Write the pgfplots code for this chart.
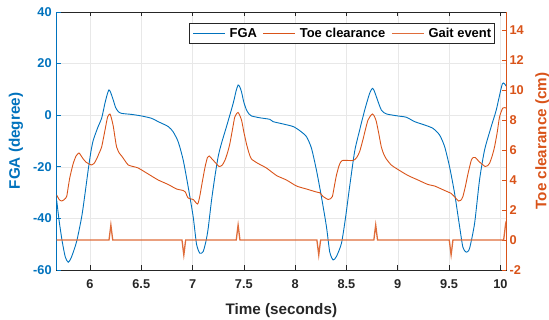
\documentclass[border=0pt]{standalone}
\usepackage{pgfplots}
\pgfplotsset{compat=1.18}
\usepackage{fontspec}
\setmainfont{Liberation Sans}
\definecolor{mblue}{rgb}{0,0.447,0.741}
\definecolor{morange}{rgb}{0.85,0.325,0.098}
\definecolor{mgray}{rgb}{0.15,0.15,0.15}
\begin{document}
\begin{tikzpicture}
\pgfplotsset{
  every axis/.append style={
    scale only axis, width=449.3bp, height=258bp,
    xmin=5.676, xmax=10.055,
    tick align=inside,
    major tick length=4.5bp,
    /pgf/number format/assume math mode=true,
    ticklabel style={font=\bfseries\fontsize{12.8}{15}\selectfont},
  }
}
% grid + x axis box
\begin{axis}[name=ax,
  axis lines=box,
  ymin=-60, ymax=40,
  xtick={6,6.5,7,7.5,8,8.5,9,9.5,10},
  xticklabels={6,6.5,7,7.5,8,8.5,9,9.5,10},
  xticklabel style={mgray, yshift=-6bp},
  ytick=\empty,
  extra y ticks={-40,-20,0,20},
  extra y tick labels={,,,},
  extra y tick style={major tick length=0pt, grid=major},
  xmajorgrids,
  grid style={gray!18, line width=0.5bp},
  axis line style={mgray, line width=0.6bp},
  tick style={mgray, line width=0.6bp},
  xlabel={Time (seconds)},
  xlabel style={mgray, font=\bfseries\fontsize{15.3}{18}\selectfont, at={(axis description cs:0.5,0)}, anchor=center, yshift=-41bp},
]
\end{axis}
% left axis: FGA
\begin{axis}[
  axis x line=none, axis y line*=left,
  ymin=-60, ymax=40, ytick={-60,-40,-20,0,20,40},
  y axis line style={mblue, line width=0.6bp},
  tick style={mblue, line width=0.6bp},
  yticklabel style={mblue, xshift=-1.5bp},
  ylabel={FGA (degree)},
  ylabel style={mblue, font=\bfseries\fontsize{15.3}{18}\selectfont, at={(axis description cs:0,0.5)}, anchor=center, rotate=0, yshift=40.7bp},
]
\addplot[mblue, line width=0.9bp, smooth, tension=0.4] coordinates {
(5.676,-33) (5.70,-41) (5.73,-49) (5.76,-55) (5.789,-57) (5.82,-55) (5.87,-49) (5.92,-39.3) (5.95,-31) (5.983,-21.2) (6.01,-14) (6.033,-9.6) (6.08,-4.4) (6.114,-1.2) (6.146,4.6) (6.17,8.3) (6.185,9.8) (6.20,9) (6.227,5.9) (6.25,3) (6.276,1.4) (6.309,0.7) (6.406,0.3) (6.503,-0.3) (6.60,-1.2) (6.665,-2.5) (6.763,-4.4) (6.81,-6.4) (6.86,-10.3) (6.909,-17.4) (6.957,-27.7) (7.006,-39.3) (7.039,-50) (7.071,-53.5) (7.103,-52.9) (7.13,-49) (7.152,-44) (7.185,-33) (7.217,-24) (7.25,-16) (7.282,-10.9) (7.331,-4.4) (7.396,4.6) (7.425,9.5) (7.444,11.7) (7.46,11) (7.477,9.1) (7.50,5) (7.526,2.0) (7.55,0.5) (7.574,-0.3) (7.655,-1.0) (7.753,-1.6) (7.785,-2.5) (7.882,-3.4) (7.98,-4.4) (8.045,-6) (8.11,-8.3) (8.159,-12.8) (8.207,-21.2) (8.256,-31.6) (8.305,-43.2) (8.337,-53) (8.37,-56.1) (8.402,-54.8) (8.451,-49.7) (8.49,-40) (8.53,-28) (8.58,-14) (8.629,-5.7) (8.678,2.0) (8.726,8.5) (8.753,10.4) (8.77,9.5) (8.791,7.2) (8.84,2.0) (8.889,0.5) (9.002,-0.3) (9.084,-0.8) (9.165,-2.5) (9.262,-3.8) (9.343,-5.1) (9.408,-7.7) (9.457,-12.2) (9.505,-20) (9.554,-30.3) (9.603,-43.2) (9.635,-51.2) (9.668,-53.1) (9.70,-51.6) (9.749,-41.9) (9.797,-25.1) (9.846,-13.5) (9.911,-4.4) (9.96,2.0) (10.02,12.2) (10.055,11.3)
};
\end{axis}
% right axis: toe clearance + gait events
\begin{axis}[
  axis x line=none, axis y line*=right,
  ymin=-2, ymax=15.2, ytick={-2,0,2,4,6,8,10,12,14},
  y axis line style={morange, line width=0.6bp},
  tick style={morange, line width=0.6bp},
  yticklabel style={morange},
  ylabel={Toe clearance (cm)},
  ylabel style={morange, font=\bfseries\fontsize{15.3}{18}\selectfont, at={(axis description cs:1,0.5)}, anchor=center, rotate=0, yshift=-36.5bp},
  legend style={at={(0.9755,0.957)}, anchor=north east, legend columns=3,
    draw=mgray, line width=0.6bp, fill=white, inner xsep=3.5bp, inner ysep=2.5bp,
    font=\bfseries\fontsize{13}{15}\selectfont,
    nodes={inner xsep=0bp},
    /tikz/every odd column/.append style={column sep=4bp},
    /tikz/every even column/.append style={column sep=6bp}},
  legend image code/.code={\draw[#1] (0bp,0bp) -- (32bp,0bp);},
]
\addlegendimage{mblue, line width=0.9bp}
\addlegendentry{FGA}
\addplot[morange, line width=0.9bp, smooth, tension=0.4] coordinates {
(5.676,3.0) (5.70,2.7) (5.724,2.6) (5.75,2.7) (5.773,2.9) (5.79,3.6) (5.805,4.2) (5.837,5.1) (5.865,5.6) (5.893,5.8) (5.915,5.6) (5.935,5.4) (5.96,5.2) (5.983,5.1) (6.016,5.0) (6.04,5.1) (6.065,5.4) (6.09,5.8) (6.114,6.2) (6.146,7.3) (6.172,8.2) (6.195,8.4) (6.21,8.1) (6.227,7.6) (6.245,6.8) (6.26,6.2) (6.285,5.8) (6.309,5.6) (6.34,5.3) (6.373,5.0) (6.42,4.9) (6.47,4.8) (6.568,4.4) (6.665,4.0) (6.763,3.7) (6.844,3.4) (6.909,3.3) (6.93,3.2) (6.957,2.8) (7.006,2.7) (7.049,2.4) (7.07,2.9) (7.088,3.6) (7.12,4.8) (7.145,5.5) (7.162,5.6) (7.19,5.4) (7.217,5.2) (7.259,4.9) (7.29,5.0) (7.315,5.3) (7.34,5.8) (7.363,6.4) (7.39,7.4) (7.412,8.2) (7.444,8.5) (7.477,8.0) (7.50,7.2) (7.526,6.4) (7.55,5.8) (7.574,5.4) (7.639,5.1) (7.72,4.8) (7.818,4.3) (7.915,4.0) (8.013,3.6) (8.11,3.4) (8.207,3.2) (8.24,3.15) (8.272,2.9) (8.321,2.7) (8.345,2.75) (8.363,2.9) (8.385,3.7) (8.402,4.3) (8.43,5.0) (8.46,5.3) (8.564,5.3) (8.60,5.5) (8.629,5.9) (8.661,6.7) (8.71,8.0) (8.753,8.4) (8.775,8.2) (8.791,7.9) (8.815,7.1) (8.84,6.2) (8.865,5.7) (8.889,5.4) (8.937,5.0) (9.002,4.7) (9.10,4.3) (9.197,4.0) (9.294,3.7) (9.359,3.6) (9.457,3.3) (9.522,3.1) (9.564,2.8) (9.593,2.6) (9.615,2.65) (9.635,2.9) (9.66,3.6) (9.684,4.4) (9.716,5.3) (9.735,5.5) (9.755,5.5) (9.797,5.2) (9.852,4.9) (9.875,4.95) (9.894,5.1) (9.92,5.6) (9.943,6.2) (9.97,7.2) (9.992,8.2) (10.024,8.8) (10.055,8.8)
};
\addlegendentry{Toe clearance}
\addplot[morange!85!white, line width=1.3bp] coordinates {
(5.676,0) (6.186,0) (6.204,1) (6.222,0) (6.897,0) (6.915,-1) (6.933,0) (7.426,0) (7.444,1) (7.462,0) (8.212,0) (8.23,-1) (8.248,0) (8.767,0) (8.785,1) (8.803,0) (9.502,0) (9.52,-1) (9.538,0) (10.032,0) (10.05,1) (10.055,0.8)
};
\addlegendentry{Gait event}
\end{axis}
\pgfresetboundingbox
\path (ax.south west) ++(-56.7bp,-50bp) rectangle ++(549bp,320bp);
\end{tikzpicture}
\end{document}
